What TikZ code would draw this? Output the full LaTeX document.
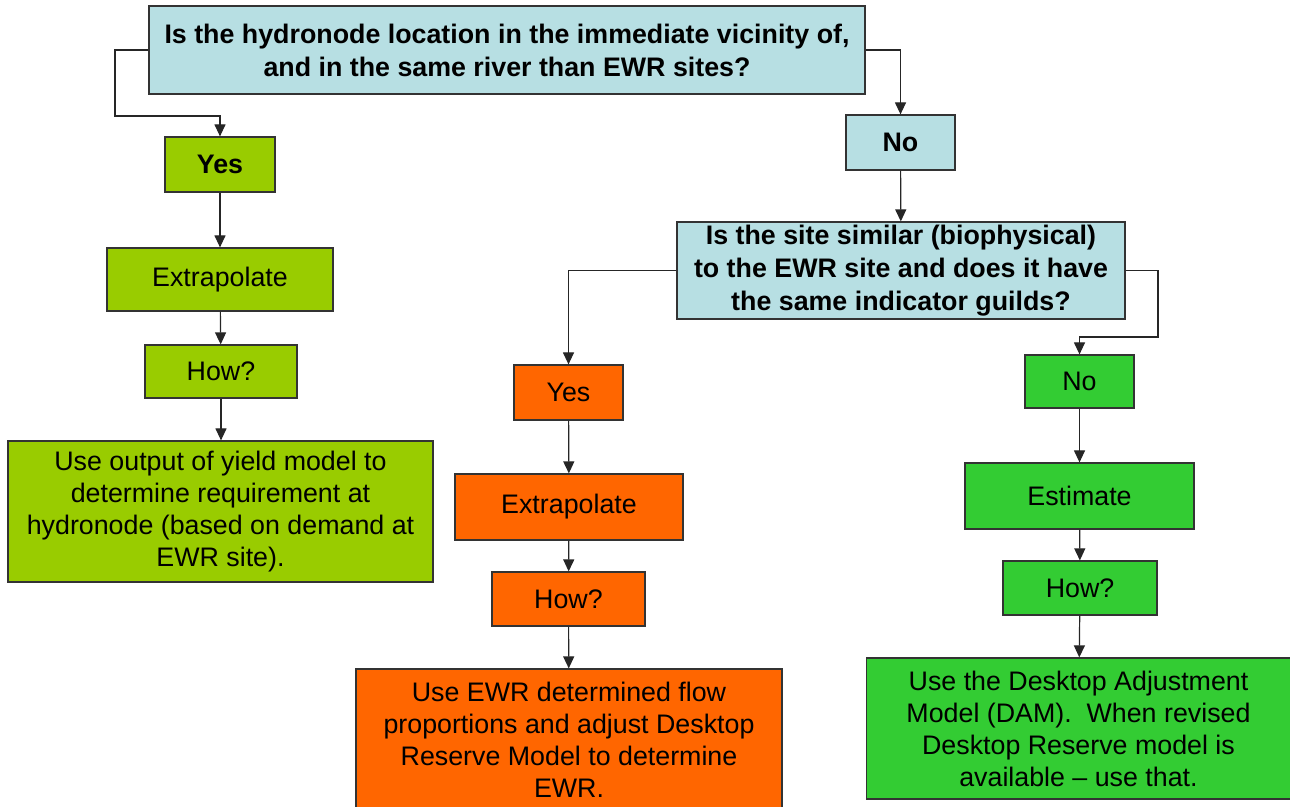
\documentclass[tikz,border=0pt]{standalone}
\usepackage{fontspec}
\setmainfont{Liberation Sans}
\usetikzlibrary{arrows.meta}
\definecolor{qblue}{HTML}{B7DFE3}
\definecolor{lime}{HTML}{99CC00}
\definecolor{orng}{HTML}{FF6600}
\definecolor{grn}{HTML}{33CC33}
\tikzset{
  chartbox/.style={draw=black!80, line width=0.6pt, align=center, inner sep=0pt,
    font=\fontsize{13.4}{16}\selectfont},
  qbox/.style={chartbox, fill=qblue, font=\fontsize{13.4}{16.5}\selectfont\bfseries},
  limebox/.style={chartbox, fill=lime},
  orangebox/.style={chartbox, fill=orng},
  greenbox/.style={chartbox, fill=grn},
  arr/.style={draw=black!85, line width=0.6pt, -{Triangle[length=6pt,width=5.5pt]}}
}
\begin{document}
\begin{tikzpicture}[x=0.5pt,y=-0.5pt]
  \useasboundingbox (0,0) rectangle (1290,807);
  % first question
  \node[qbox, minimum width=358pt, minimum height=44pt] (q1) at (507,50)
    {Is the hydronode location in the immediate vicinity of,\\and in the same river than EWR sites?};
  % left branch
  \node[limebox, minimum width=55pt, minimum height=27.5pt, font=\fontsize{13.4}{16}\selectfont\bfseries] (yes1) at (220,164.5) {Yes};
  \node[limebox, minimum width=113pt, minimum height=31.5pt] (ext1) at (220,279.5) {Extrapolate};
  \node[limebox, minimum width=76pt, minimum height=26.5pt] (how1) at (221,371.5) {How?};
  \node[limebox, minimum width=212.5pt, minimum height=70.5pt] (use1) at (220.5,511.5)
    {Use output of yield model to\\determine requirement at\\hydronode (based on demand at\\EWR site).};
  % right branch
  \node[qbox, minimum width=54.5pt, minimum height=27.5pt] (no1) at (900.5,142.5) {No};
  \node[qbox, minimum width=224pt, minimum height=48.5pt] (q2) at (901,270.5)
    {Is the site similar (biophysical)\\to the EWR site and does it have\\the same indicator guilds?};
  % orange column
  \node[orangebox, minimum width=54.5pt, minimum height=27.5pt] (yes2) at (568.5,392.5) {Yes};
  \node[orangebox, minimum width=114pt, minimum height=33pt] (ext2) at (569,507) {Extrapolate};
  \node[orangebox, minimum width=76.5pt, minimum height=27pt] (how2) at (568.5,599) {How?};
  \node[orangebox, minimum width=213pt, minimum height=71pt] (use2) at (569,740)
    {Use EWR determined flow\\proportions and adjust Desktop\\Reserve Model to determine\\EWR.};
  % green column
  \node[greenbox, minimum width=54.5pt, minimum height=26.5pt] (no2) at (1079.5,381.5) {No};
  \node[greenbox, minimum width=114.5pt, minimum height=33pt] (est) at (1079.5,496) {Estimate};
  \node[greenbox, minimum width=77pt, minimum height=27pt] (how3) at (1080,588) {How?};
  \node[greenbox, minimum width=212pt, minimum height=70.5pt] (use3) at (1078.5,728.5)
    {Use the Desktop Adjustment\\Model (DAM).\ \ When revised\\Desktop Reserve model is\\available -- use that.};
  % connectors
  \draw[arr] (q1.west) -| (115,116) -| (yes1.north);
  \draw[arr] (yes1) -- (ext1);
  \draw[arr] (ext1) -- (how1);
  \draw[arr] (how1) -- (how1 |- use1.north);
  \draw[arr] (q1.east) -| (no1.north);
  \draw[arr] (no1) -- (q2);
  \draw[arr] (q2.west) -| (yes2.north);
  \draw[arr] (yes2) -- (ext2);
  \draw[arr] (ext2) -- (how2);
  \draw[arr] (how2) -- (use2);
  \draw[arr] (q2.east) -| (1158,337) -| (no2.north);
  \draw[arr] (no2) -- (est);
  \draw[arr] (est) -- (how3);
  \draw[arr] (how3) -- (use3);
\end{tikzpicture}
\end{document}
